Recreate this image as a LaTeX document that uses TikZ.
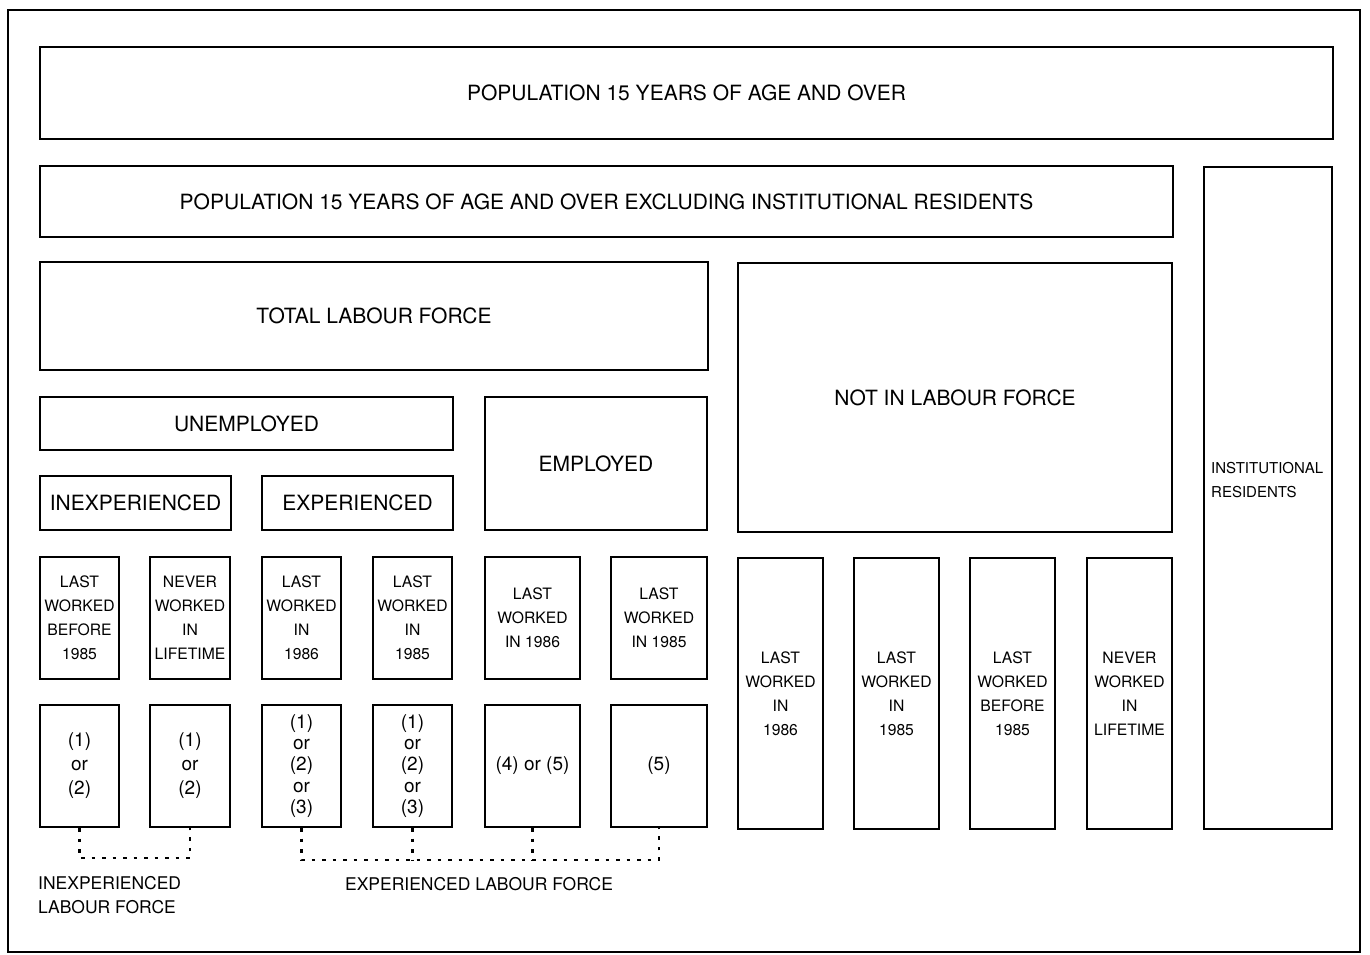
\documentclass[tikz,border=0pt]{standalone}
\usepackage{fontspec}
\setmainfont{TeX Gyre Heros}
\usepackage{tikz}
\usetikzlibrary{positioning}
\tikzstyle{box}=[draw=black,line width=2.2pt,inner sep=0pt,align=center]
\tikzstyle{big}=[font=\fontsize{21}{24}\selectfont]
\tikzstyle{small}=[font=\fontsize{15.7}{24}\selectfont]
\tikzstyle{answer}=[font=\fontsize{19}{24}\selectfont]
\tikzstyle{dotline}=[line width=2.4pt,dash pattern=on 3.5pt off 7pt]

\begin{document}
\begin{tikzpicture}[x=1pt,y=-1pt]
		\useasboundingbox (0,0) rectangle (1370,955);
		\draw[line width=2.2pt] (8,10) rectangle (1360,952);

		% top rows
		\node[box,big,minimum width=1293,minimum height=92] (pop) at (686.5,93)
			{POPULATION 15 YEARS OF AGE AND OVER};
		\node[box,big,minimum width=1133,minimum height=71] (excl) at (606.5,201.5)
			{POPULATION 15 YEARS OF AGE AND OVER EXCLUDING INSTITUTIONAL RESIDENTS};
		\node[box,minimum width=128,minimum height=662] (inst) at (1268,498) {};
		\node[anchor=north west,align=left,inner sep=0pt,
			font=\fontsize{15}{24}\selectfont] (instlbl) at (1211,462)
			{INSTITUTIONAL\\RESIDENTS};

		% labour force
		\node[box,big,minimum width=668,minimum height=108] (tlf) at (374,316)
			{TOTAL LABOUR FORCE};
		\node[box,big,minimum width=434,minimum height=269] (nilf) at (955,397.5)
			{NOT IN LABOUR FORCE};
		\node[box,big,minimum width=413,minimum height=53] (unemp) at (246.5,423.5)
			{UNEMPLOYED};
		\node[box,big,minimum width=222,minimum height=133] (emp) at (596,463.5)
			{EMPLOYED};
		\node[box,big,minimum width=191,minimum height=54] (inexp) at (135.5,503)
			{INEXPERIENCED};
		\node[box,big,minimum width=191,minimum height=54] (exper) at (357.5,503)
			{EXPERIENCED};

		% when last worked
		\node[box,small,minimum width=79,minimum height=122] (a1) at (79.5,618)
			{LAST\\WORKED\\BEFORE\\1985};
		\node[box,small,minimum width=80,minimum height=122] (b1) at (190,618)
			{NEVER\\WORKED\\IN\\LIFETIME};
		\node[box,small,minimum width=79,minimum height=122] (c1) at (301.5,618)
			{LAST\\WORKED\\IN\\1986};
		\node[box,small,minimum width=79,minimum height=122] (d1) at (412.5,618)
			{LAST\\WORKED\\IN\\1985};
		\node[box,small,minimum width=95,minimum height=122] (e1) at (532.5,618)
			{LAST\\WORKED\\IN 1986};
		\node[box,small,minimum width=96,minimum height=122] (f1) at (659,618)
			{LAST\\WORKED\\IN 1985};

		% answers
		\node[box,answer,minimum width=79,minimum height=122] (a2) at (79.5,766)
			{(1)\\or\\(2)};
		\node[box,answer,minimum width=80,minimum height=122] (b2) at (190,766)
			{(1)\\or\\(2)};
		\node[box,font=\fontsize{19}{21.3}\selectfont,
			minimum width=79,minimum height=122] (c2) at (301.5,766)
			{(1)\\or\\(2)\\or\\(3)};
		\node[box,font=\fontsize{19}{21.3}\selectfont,
			minimum width=79,minimum height=122] (d2) at (412.5,766)
			{(1)\\or\\(2)\\or\\(3)};
		\node[box,answer,minimum width=95,minimum height=122] (e2) at (532.5,766)
			{(4) or (5)};
		\node[box,answer,minimum width=96,minimum height=122] (f2) at (659,766)
			{(5)};

		% not in labour force
		\node[box,small,minimum width=85,minimum height=271] (g1) at (780.5,693.5)
			{LAST\\WORKED\\IN\\1986};
		\node[box,small,minimum width=85,minimum height=271] (h1) at (896.5,693.5)
			{LAST\\WORKED\\IN\\1985};
		\node[box,small,minimum width=85,minimum height=271] (i1) at (1012.5,693.5)
			{LAST\\WORKED\\BEFORE\\1985};
		\node[box,small,minimum width=85,minimum height=271] (j1) at (1129.5,693.5)
			{NEVER\\WORKED\\IN\\LIFETIME};

		% groupings
		\coordinate (ilf) at (79.5,858);
		\coordinate (elf) at (301.5,860);
		\draw[dotline] (a2.south) -- (ilf) -| (b2.south);
		\draw[dotline] (c2.south) -- (elf) -| (f2.south);
		\draw[dotline] (d2.south) -- (d2.south |- elf);
		\draw[dotline] (e2.south) -- (e2.south |- elf);
		\node[anchor=north west,align=left,inner sep=0pt,
			font=\fontsize{17.5}{24}\selectfont] (ilflbl) at (38,876)
			{INEXPERIENCED\\LABOUR FORCE};
		\node[inner sep=0pt,font=\fontsize{17.5}{24}\selectfont] (elflbl) at (479,884)
			{EXPERIENCED LABOUR FORCE};
	\end{tikzpicture}
\end{document}
